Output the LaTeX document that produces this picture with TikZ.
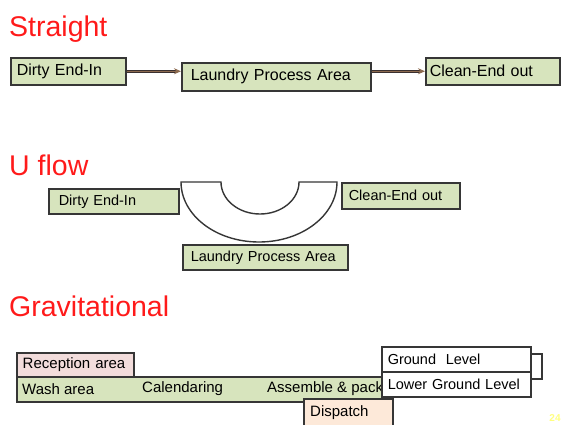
\documentclass[tikz,border=0pt]{standalone}
\usepackage{fontspec}
\setmainfont{Liberation Sans}
\usetikzlibrary{arrows.meta,shadows}
\definecolor{boxgreen}{HTML}{D7E4BD}
\definecolor{boxpink}{HTML}{F2DCDB}
\definecolor{boxpeach}{HTML}{FDE9D9}
\definecolor{boxline}{HTML}{363636}
\definecolor{titlered}{HTML}{FF1A1A}
\definecolor{arrowbrown}{HTML}{8C6A4F}
\definecolor{arrowdark}{HTML}{3A3030}
\definecolor{pageyellow}{HTML}{FFFF80}
\newcommand{\myfs}[1]{\fontsize{#1}{#1}\selectfont}
\begin{document}
\begin{tikzpicture}[x=1pt,y=-1pt,
  title/.style={anchor=base west, inner sep=0pt, text=titlered, font=\myfs{28.5}},
  box/.style={draw=boxline, fill=boxgreen, line width=1.5pt, inner ysep=0pt, align=left,
    anchor=north west, drop shadow={shadow xshift=1.2pt, shadow yshift=-1.2pt, opacity=.25, fill=black}},
  txt/.style={anchor=west, inner sep=0pt, font=\myfs{15}},
  ushape/.style={draw=boxline, fill=white, line width=1.4pt},
  flowdark/.style={draw=arrowdark, line width=3pt, shorten >=5pt},
  flowtip/.style={draw=arrowbrown, line width=1pt, -{Stealth[length=7pt,width=6pt,fill=arrowbrown]}},
  bracket/.style={draw=boxline, line width=1.5pt}
]
\useasboundingbox (0,0) rectangle (563,424);

% ---------- Straight ----------
\node[title] (t1) at (9,36) {Straight};
\node[box, font=\myfs{16}, inner xsep=6pt, text width=103pt, minimum height=27pt] (d1) at (10,57) {Dirty End-In};
\node[box, font=\myfs{16}, inner xsep=9pt, text width=171pt, minimum height=28pt] (l1) at (181,62) {Laundry Process Area};
\node[box, font=\myfs{16}, inner xsep=4pt, text width=126pt, minimum height=27pt] (c1) at (425,57) {Clean-End out};
\draw[flowdark] (d1.east) -- (d1.east -| l1.west);
\draw[flowtip] (d1.east) -- (d1.east -| l1.west);
\draw[flowdark] (l1.east |- c1.west) -- (c1.west);
\draw[flowtip] (l1.east |- c1.west) -- (c1.west);

% ---------- U flow ----------
\node[title] (t2) at (9,175) {U flow};
\node[box, font=\myfs{14.5}, inner xsep=10pt, text width=110pt, minimum height=25pt] (d2) at (48,188) {Dirty End-In};
\node[box, font=\myfs{14.5}, inner xsep=7pt, text width=104pt, minimum height=26pt] (c2) at (341,182) {Clean-End out};
\draw[ushape] (181,182) -- (221,182)
  arc[start angle=180, end angle=0, x radius=39, y radius=32] -- (337,182)
  arc[start angle=0, end angle=180, x radius=78, y radius=60] -- cycle;
\node[box, font=\myfs{14.5}, inner xsep=8pt, text width=149pt, minimum height=25pt] (l2) at (182,244) {Laundry Process Area};

% ---------- Gravitational ----------
\node[title] (t3) at (9,316) {Gravitational};
\node[box, minimum width=376pt, minimum height=25pt] (bar) at (16,376) {};
\node[box, fill=boxpink, font=\myfs{15}, inner xsep=6pt, text width=105pt, minimum height=24pt] (rec) at (16,352) {Reception area};
\node[txt] (wash) at (22,389) {Wash area};
\node[txt] (cal) at (142,389) {Calendaring};
\node[txt] (ass) at (267,389) {Assemble \& pack};
\node[box, fill=boxpeach, inner xsep=7pt, text width=75pt, minimum height=32pt] (dis) at (303,398) {};
\node[txt] (distxt) at (310,413) {Dispatch};
\node[box, fill=white, font=\myfs{14.5}, inner xsep=6pt, text width=137pt, minimum height=25pt] (gl) at (381,346) {Ground\ \ Level};
\node[box, fill=white, font=\myfs{14.5}, inner xsep=6pt, text width=137pt, minimum height=25pt] (lgl) at (381,371) {Lower Ground Level};
\coordinate (bt) at (542,354);
\coordinate (bb) at (542,379);
\draw[bracket] (gl.east |- bt) -- (bt) -- (bb) -- (lgl.east |- bb);

\node[inner sep=0pt, text=pageyellow, font=\myfs{10}\bfseries] (pg) at (555,418) {24};
\end{tikzpicture}
\end{document}
